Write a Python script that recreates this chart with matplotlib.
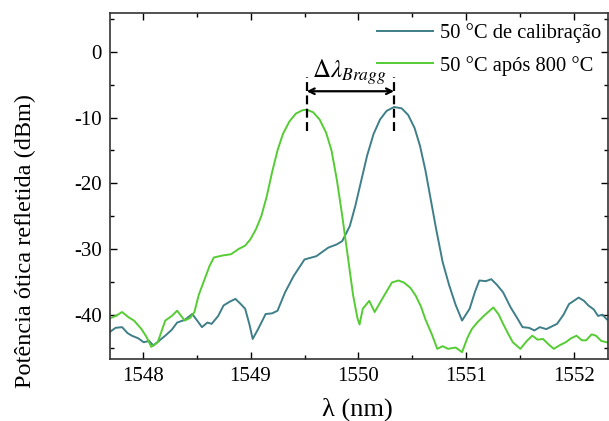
import matplotlib
matplotlib.use('Agg')
import matplotlib.pyplot as plt
from matplotlib.ticker import MultipleLocator

plt.rcParams['font.family'] = ['Liberation Serif', 'DejaVu Serif']
plt.rcParams['mathtext.fontset'] = 'stix'
plt.rcParams['axes.unicode_minus'] = False

# espectro "50 °C de calibração"
calib_x = [1547.69, 1547.75, 1547.81, 1547.86, 1547.90, 1547.96, 1548.01, 1548.06, 1548.10,
           1548.15, 1548.21, 1548.27, 1548.32, 1548.39, 1548.46, 1548.51, 1548.55, 1548.60,
           1548.64, 1548.70, 1548.75, 1548.81, 1548.86, 1548.91, 1548.95, 1548.99, 1549.02,
           1549.07, 1549.14, 1549.20, 1549.25, 1549.32, 1549.40, 1549.50, 1549.61, 1549.72,
           1549.80, 1549.85, 1549.92, 1549.97, 1550.02, 1550.08, 1550.14, 1550.20, 1550.26,
           1550.33, 1550.40, 1550.46, 1550.52, 1550.57, 1550.62, 1550.67, 1550.72, 1550.78,
           1550.84, 1550.90, 1550.96, 1551.03, 1551.08, 1551.12, 1551.18, 1551.23, 1551.28,
           1551.34, 1551.41, 1551.47, 1551.52, 1551.58, 1551.63, 1551.68, 1551.74, 1551.79,
           1551.84, 1551.90, 1551.95, 1552.04, 1552.09, 1552.13, 1552.18, 1552.22, 1552.26,
           1552.30]
calib_y = [-42.7, -42.0, -41.9, -42.8, -43.2, -43.6, -44.2, -44.0, -44.7,
           -44.0, -43.2, -42.3, -41.2, -40.8, -39.9, -41.0, -41.9, -41.2,
           -41.4, -40.2, -38.6, -38.0, -37.6, -38.4, -39.1, -41.5, -43.7,
           -42.2, -39.9, -39.8, -39.4, -36.6, -34.1, -31.6, -31.1, -29.8,
           -29.3, -28.8, -26.5, -23.5, -20.0, -15.8, -12.5, -10.3, -9.0,
           -8.4, -8.6, -9.6, -11.6, -14.3, -18.0, -22.5, -27.0, -32.0,
           -35.5, -38.5, -40.9, -39.1, -36.5, -34.8, -34.9, -34.6, -35.4,
           -36.6, -38.9, -40.5, -41.9, -42.0, -42.4, -41.9, -42.2, -41.8,
           -41.4, -40.0, -38.4, -37.4, -37.9, -38.6, -39.2, -40.2, -40.0,
           -40.7]

# espectro "50 °C após 800 °C"
apos_x = [1547.69, 1547.75, 1547.81, 1547.87, 1547.92, 1547.99, 1548.04, 1548.08, 1548.14,
          1548.21, 1548.27, 1548.32, 1548.39, 1548.44, 1548.48, 1548.52, 1548.57, 1548.62,
          1548.66, 1548.74, 1548.82, 1548.89, 1548.95, 1549.00, 1549.05, 1549.10, 1549.15,
          1549.20, 1549.25, 1549.30, 1549.36, 1549.42, 1549.48, 1549.52, 1549.58, 1549.64,
          1549.70, 1549.75, 1549.80, 1549.85, 1549.90, 1549.95, 1549.99, 1550.01, 1550.04,
          1550.10, 1550.15, 1550.22, 1550.31, 1550.37, 1550.42, 1550.48, 1550.53, 1550.58,
          1550.62, 1550.68, 1550.73, 1550.78, 1550.83, 1550.90, 1550.96, 1551.01, 1551.05,
          1551.10, 1551.16, 1551.25, 1551.30, 1551.34, 1551.39, 1551.43, 1551.50, 1551.56,
          1551.61, 1551.66, 1551.71, 1551.76, 1551.81, 1551.87, 1551.92, 1551.97, 1552.02,
          1552.07, 1552.11, 1552.16, 1552.20, 1552.25, 1552.30]
apos_y = [-40.6, -40.2, -39.6, -40.4, -40.9, -42.2, -43.5, -44.9, -44.2,
          -40.9, -40.2, -39.4, -40.9, -40.5, -39.6, -37.0, -34.8, -32.6,
          -31.3, -31.0, -30.8, -30.0, -29.5, -28.5, -27.0, -25.0, -22.0,
          -18.3, -15.0, -12.5, -10.6, -9.4, -8.9, -8.8, -9.2, -10.3,
          -12.3, -15.0, -19.5, -25.0, -31.0, -37.0, -40.5, -41.5, -39.1,
          -37.9, -39.6, -37.6, -35.1, -34.8, -35.1, -35.9, -37.1, -38.8,
          -40.7, -43.0, -45.2, -44.8, -45.2, -45.0, -45.7, -43.5, -42.2,
          -41.2, -40.2, -38.9, -40.0, -41.4, -43.0, -44.2, -45.2, -44.0,
          -43.2, -43.8, -43.7, -44.5, -45.2, -44.6, -44.2, -43.6, -43.2,
          -43.9, -43.9, -43.0, -43.2, -44.0, -44.2]

pico_apos = 1549.52
pico_calib = 1550.33

cor_calib = '#3f7f88'
cor_apos = '#55cc33'

fig = plt.figure(figsize=(6.09, 4.21), dpi=100)
ax = fig.add_axes([0.181, 0.148, 0.817, 0.821])

ax.plot(calib_x, calib_y, color=cor_calib, lw=1.4, label='50 °C de calibração')
ax.plot(apos_x, apos_y, color=cor_apos, lw=1.4, label='50 °C após 800 °C')

# marcação do deslocamento de Bragg
for xp in (pico_apos, pico_calib):
    ax.plot([xp, xp], [-12.1, -3.9], color='black', lw=1.6, ls=(0, (4, 2)))
ax.annotate('', xy=(pico_apos, -6.0), xytext=(pico_calib, -6.0),
            arrowprops=dict(arrowstyle='<->', color='black', lw=1.6,
                            shrinkA=0, shrinkB=0))
ax.text(pico_apos + 0.05, -4.0, r'$\Delta\lambda_{Bragg}$',
        ha='left', va='baseline', fontsize=18)

ax.set_xlim(1547.7, 1552.31)
ax.set_ylim(-46.7, 5.9)
ax.xaxis.set_minor_locator(MultipleLocator(0.5))
ax.yaxis.set_minor_locator(MultipleLocator(5))
ax.set_xticks([1548, 1549, 1550, 1551, 1552])
ax.set_yticks([-40, -30, -20, -10, 0])
ax.tick_params(which='both', direction='in', top=True, right=True,
               labelsize=15, width=1.0)
ax.tick_params(which='major', length=5, pad=6)
ax.tick_params(which='minor', length=3)
for s in ax.spines.values():
    s.set_linewidth(1.2)
    s.set_color('#333333')

ax.set_xlabel('λ (nm)', fontsize=19)
ax.xaxis.set_label_coords(0.496, -0.112)
ax.set_ylabel('Potência ótica refletida (dBm)', fontsize=17.5)
ax.yaxis.set_label_coords(-0.149, 0.34)

ax.legend(loc='upper left', bbox_to_anchor=(0.536, 0.971), frameon=False,
          fontsize=14.8, handlelength=2.75, handletextpad=0.3, labelspacing=0.62,
          borderaxespad=0, borderpad=0)

fig.savefig('out.png', dpi=100)
